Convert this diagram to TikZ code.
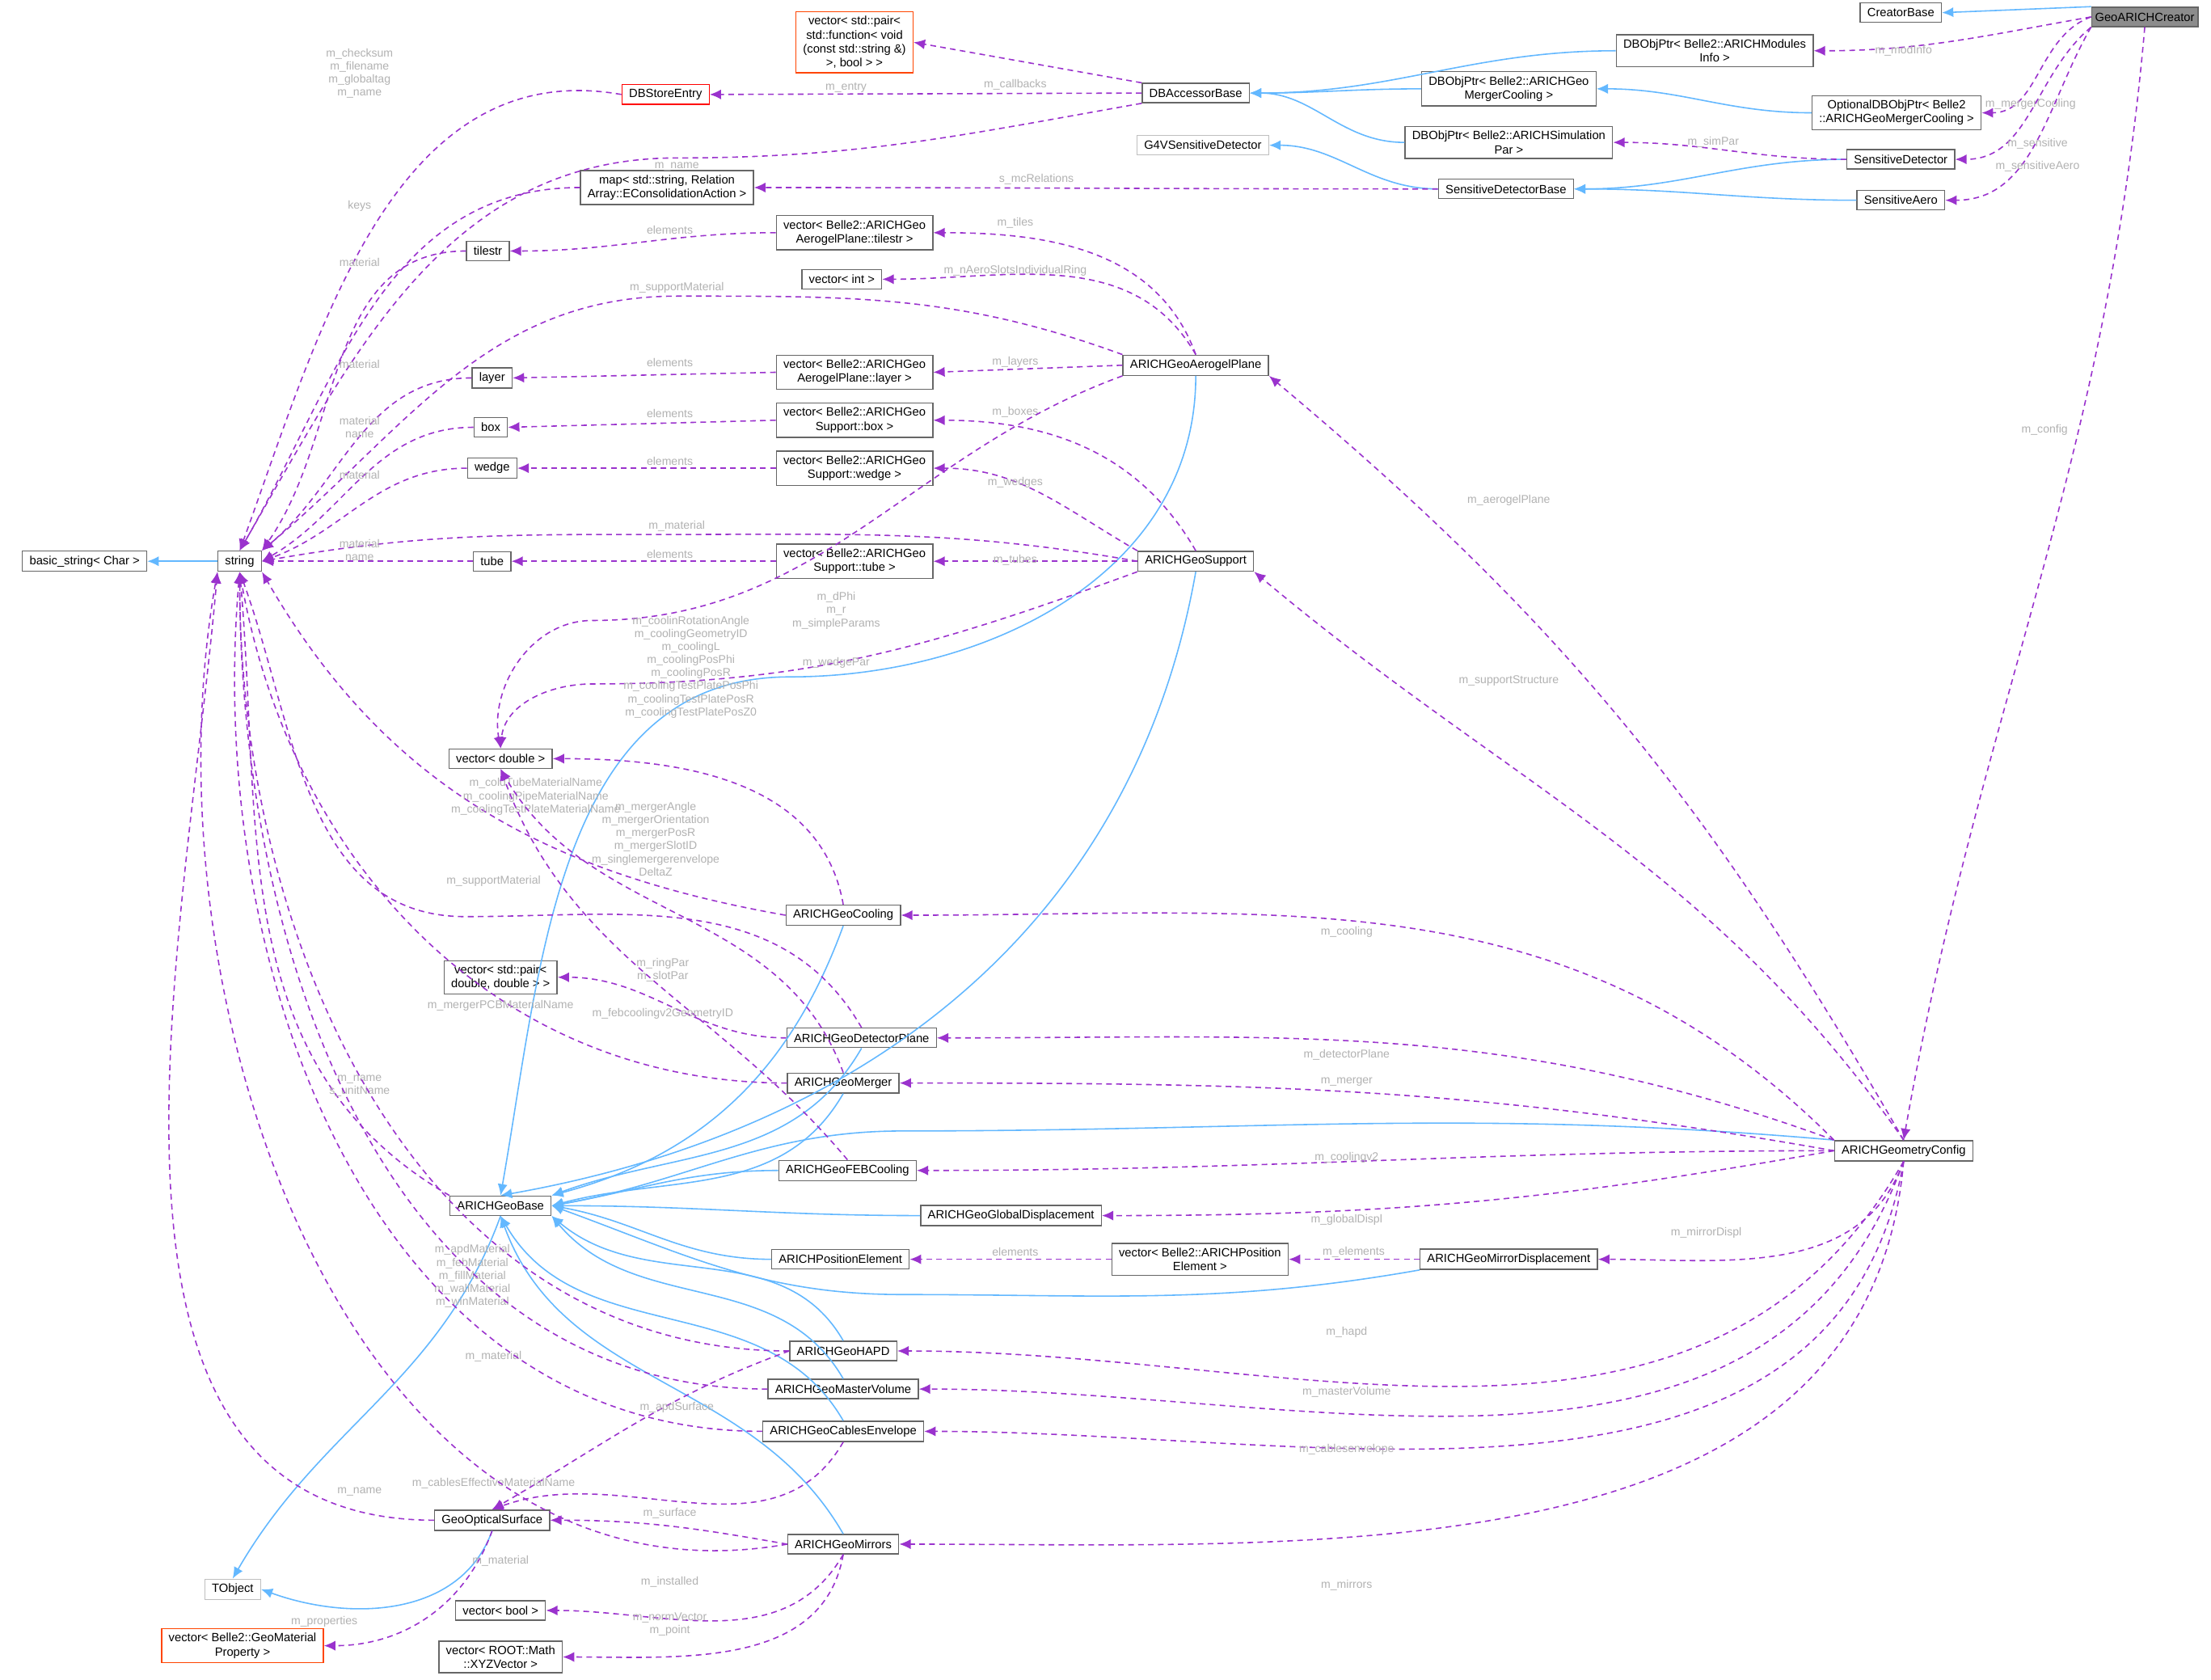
\documentclass[tikz,border=0pt]{standalone}
\usepackage{fontspec}
\setmainfont{Liberation Sans}
\usetikzlibrary{positioning}
\usetikzlibrary{arrows.meta}
\definecolor{inhcol}{RGB}{99,184,255}
\definecolor{usecol}{RGB}{154,50,205}
\definecolor{extcol}{RGB}{255,69,0}
\tikzset{>=latex}

\begin{document}
\begin{tikzpicture}[x=0.01744cm, y=-0.01744cm,
    cls/.style={draw=black!60, fill=white, line width=0.4pt, inner xsep=2.5pt, inner ysep=1.6pt,
      font=\fontsize{4.2}{4.9}\selectfont, align=center, minimum height=0.24cm},
    grey/.style={cls, draw=black!25},
    ext/.style={cls, draw=extcol},
    red/.style={cls, draw=red},
    cur/.style={cls, fill=black!45, inner xsep=1.2pt},
    inh/.style={-{Latex[length=4pt,width=3.5pt]}, draw=inhcol, line width=0.45pt},
    use/.style={-{Latex[length=4pt,width=3.5pt]}, draw=usecol, dashed, line width=0.45pt, dash pattern=on 2pt off 1.5pt},
    lbl/.style={text=black!30, font=\fontsize{4}{4.6}\selectfont, align=center, inner sep=0.5pt}]
    \useasboundingbox[fill=white] (0,0) rectangle (1568,1191);

    % 1. Classes
    \node[cls] (creatorbase) at (1348,9) {CreatorBase};
    \node[cur] (creator) at (1521,12) {GeoARICHCreator};
    \node[cls] (modinfo) at (1216,36) {DBObjPtr< Belle2::ARICHModules\\Info >};
    \node[cls] (optmerger) at (1345,80) {OptionalDBObjPtr< Belle2\\::ARICHGeoMergerCooling >};
    \node[cls] (mergerptr) at (1070,63) {DBObjPtr< Belle2::ARICHGeo\\MergerCooling >};
    \node[cls] (simpar) at (1070,101) {DBObjPtr< Belle2::ARICHSimulation\\Par >};
    \node[cls] (accessor) at (848,66) {DBAccessorBase};
    \node[ext] (callbacks) at (606,30) {vector< std::pair<\\std::function< void\\(const std::string \&)\\>, bool > >};
    \node[red] (storeentry) at (472,67) {DBStoreEntry};
    \node[grey] (g4sens) at (853,103) {G4VSensitiveDetector};
    \node[cls] (sensdet) at (1348,113) {SensitiveDetector};
    \node[cls] (sensbase) at (1068,134) {SensitiveDetectorBase};
    \node[cls] (sensaero) at (1348,142) {SensitiveAero};
    \node[cls] (relmap) at (473,133) {map< std::string, Relation\\Array::EConsolidationAction >};
    \node[cls] (tilestr) at (346,178) {tilestr};
    \node[cls] (vtiles) at (606,165) {vector< Belle2::ARICHGeo\\AerogelPlane::tilestr >};
    \node[cls] (vint) at (597,198) {vector< int >};
    \node[cls] (aerogel) at (848,259) {ARICHGeoAerogelPlane};
    \node[cls] (layer) at (349,268) {layer};
    \node[cls] (vlayer) at (606,264) {vector< Belle2::ARICHGeo\\AerogelPlane::layer >};
    \node[cls] (box) at (348,303) {box};
    \node[cls] (vbox) at (606,298) {vector< Belle2::ARICHGeo\\Support::box >};
    \node[cls] (wedge) at (349,332) {wedge};
    \node[cls] (vwedge) at (606,332) {vector< Belle2::ARICHGeo\\Support::wedge >};
    \node[cls] (basicstr) at (60,398) {basic\_string< Char >};
    \node[cls] (string) at (170,398) {string};
    \node[cls] (tube) at (349,398) {tube};
    \node[cls] (vtube) at (606,398) {vector< Belle2::ARICHGeo\\Support::tube >};
    \node[cls] (support) at (848,398) {ARICHGeoSupport};
    \node[cls] (vdouble) at (355,538) {vector< double >};
    \node[cls] (cooling) at (598,649) {ARICHGeoCooling};
    \node[cls] (vpair) at (355,693) {vector< std::pair<\\double, double > >};
    \node[cls] (detplane) at (611,736) {ARICHGeoDetectorPlane};
    \node[cls] (merger) at (598,768) {ARICHGeoMerger};
    \node[cls] (febcool) at (601,830) {ARICHGeoFEBCooling};
    \node[cls] (geobase) at (355,855) {ARICHGeoBase};
    \node[cls] (globdisp) at (717,862) {ARICHGeoGlobalDisplacement};
    \node[cls] (config) at (1350,816) {ARICHGeometryConfig};
    \node[cls] (poselem) at (596,893) {ARICHPositionElement};
    \node[cls] (vposelem) at (851,893) {vector< Belle2::ARICHPosition\\Element >};
    \node[cls] (mirdisp) at (1070,893) {ARICHGeoMirrorDisplacement};
    \node[cls] (hapd) at (598,958) {ARICHGeoHAPD};
    \node[cls] (master) at (598,985) {ARICHGeoMasterVolume};
    \node[cls] (cables) at (598,1015) {ARICHGeoCablesEnvelope};
    \node[cls] (optsurf) at (349,1078) {GeoOpticalSurface};
    \node[cls] (mirrors) at (598,1095) {ARICHGeoMirrors};
    \node[grey] (tobject) at (165,1127) {TObject};
    \node[cls] (vbool) at (355,1142) {vector< bool >};
    \node[ext] (vprop) at (172,1167) {vector< Belle2::GeoMaterial\\Property >};
    \node[cls] (vxyz) at (355,1175) {vector< ROOT::Math\\::XYZVector >};

    % 2. Inheritance
    \draw[inh] (creator.north west) -- (creatorbase.east);
    \draw[inh] (modinfo.west) to[out=180,in=0] (accessor.east);
    \draw[inh] (mergerptr.west) to[out=180,in=0] (accessor.east);
    \draw[inh] (simpar.west) to[out=180,in=0] (accessor.east);
    \draw[inh] (optmerger.west) to[out=180,in=0] (mergerptr.east);
    \draw[inh] (sensdet.west) to[out=180,in=0] (sensbase.east);
    \draw[inh] (sensaero.west) to[out=180,in=0] (sensbase.east);
    \draw[inh] (sensbase.west) to[out=180,in=0] (g4sens.east);
    \draw[inh] (string.west) -- (basicstr.east);
    \draw[inh] (aerogel.south) to[out=-90,in=0] (560,480) to[out=180,in=80] (geobase.north);
    \draw[inh] (support.south) to[out=-100,in=10] (geobase.north);
    \draw[inh] (cooling.south) to[out=-110,in=15] (geobase.north east);
    \draw[inh] (detplane.south) to[out=-120,in=20] (geobase.north east);
    \draw[inh] (merger.south) to[out=-120,in=15] (geobase.east);
    \draw[inh] (febcool.west) to[out=180,in=10] (geobase.east);
    \draw[inh] (globdisp.west) to[out=180,in=0] (geobase.east);
    \draw[inh] (config.north west) to[out=175,in=0] (640,802) to[out=180,in=10] (geobase.east);
    \draw[inh] (poselem.west) to[out=180,in=-10] (geobase.east);
    \draw[inh] (mirdisp.south west) to[out=190,in=0] (640,918) to[out=180,in=-20] (geobase.east);
    \draw[inh] (hapd.north) to[out=120,in=-40] (geobase.south east);
    \draw[inh] (master.north) to[out=120,in=-50] (geobase.south east);
    \draw[inh] (cables.north) to[out=120,in=-60] (geobase.south);
    \draw[inh] (mirrors.north) to[out=120,in=-70] (geobase.south);
    \draw[inh] (geobase.south) to[out=-110,in=60] (tobject.north);
    \draw[inh] (optsurf.south) to[out=-110,in=-20] (tobject.east);

    % 3. Members of GeoARICHCreator
    \draw[use] (creator.west) to[out=190,in=0] (modinfo.east);
    \node[lbl] at (1350,36) {m\_modInfo};
    \draw[use] (creator.west) to[out=200,in=0] (optmerger.east);
    \node[lbl] at (1440,74) {m\_mergerCooling};
    \draw[use] (creator.south west) to[out=220,in=0] (sensdet.east);
    \node[lbl] at (1445,102) {m\_sensitive};
    \draw[use] (creator.south west) to[out=240,in=0] (sensaero.east);
    \node[lbl] at (1445,118) {m\_sensitiveAero};
    \draw[use] (creator.south) to[out=-95,in=80] (config.north);
    \node[lbl] at (1450,305) {m\_config};

    % 4. Database and sensitive detectors
    \draw[use] (sensdet.west) to[out=180,in=0] (simpar.east);
    \node[lbl] at (1215,101) {m\_simPar};
    \draw[use] (sensbase.west) to[out=180,in=0] (relmap.east);
    \node[lbl] at (735,127) {s\_mcRelations};
    \draw[use] (accessor.north west) to[out=170,in=-10] (callbacks.east);
    \node[lbl] at (720,60) {m\_callbacks};
    \draw[use] (accessor.west) -- (storeentry.east);
    \node[lbl] at (600,62) {m\_entry};
    \draw[use] (accessor.south west) to[out=190,in=0] (480,112) to[out=180,in=60] (string.north);
    \node[lbl] at (480,118) {m\_name};
    \draw[use] (storeentry.west) to[out=170,in=70] (string.north);
    \node[lbl] at (255,52) {m\_checksum\\m\_filename\\m\_globaltag\\m\_name};
    \draw[use] (relmap.west) to[out=180,in=60] (string.north);
    \node[lbl] at (255,146) {keys};

    % 5. Aerogel plane and support
    \draw[use] (tilestr.west) to[out=180,in=55] (string.north east);
    \node[lbl] at (255,186) {material};
    \draw[use] (vtiles.west) to[out=180,in=0] (tilestr.east);
    \node[lbl] at (475,163) {elements};
    \draw[use] (aerogel.north) to[out=110,in=0] (vtiles.east);
    \node[lbl] at (720,158) {m\_tiles};
    \draw[use] (aerogel.north) to[out=120,in=0] (vint.east);
    \node[lbl] at (720,192) {m\_nAeroSlotsIndividualRing};
    \draw[use] (aerogel.north west) to[out=160,in=0] (480,210) to[out=180,in=40] (string.north east);
    \node[lbl] at (480,204) {m\_supportMaterial};
    \draw[use] (aerogel.west) -- (vlayer.east);
    \node[lbl] at (720,257) {m\_layers};
    \draw[use] (vlayer.west) -- (layer.east);
    \node[lbl] at (475,257) {elements};
    \draw[use] (layer.west) to[out=180,in=40] (string.north east);
    \node[lbl] at (255,258) {material};
    \draw[use] (box.west) to[out=180,in=30] (string.east);
    \node[lbl] at (255,303) {material\\name};
    \draw[use] (vbox.west) -- (box.east);
    \node[lbl] at (475,293) {elements};
    \draw[use] (support.north) to[out=120,in=0] (vbox.east);
    \node[lbl] at (720,292) {m\_boxes};
    \draw[use] (wedge.west) to[out=180,in=20] (string.east);
    \node[lbl] at (255,337) {material};
    \draw[use] (vwedge.west) -- (wedge.east);
    \node[lbl] at (475,327) {elements};
    \draw[use] (support.north west) to[out=150,in=0] (vwedge.east);
    \node[lbl] at (720,342) {m\_wedges};
    \draw[use] (support.west) to[out=170,in=0] (480,379) to[out=180,in=10] (string.east);
    \node[lbl] at (480,373) {m\_material};
    \draw[use] (tube.west) -- (string.east);
    \node[lbl] at (255,390) {material\\name};
    \draw[use] (vtube.west) -- (tube.east);
    \node[lbl] at (475,393) {elements};
    \draw[use] (support.west) -- (vtube.east);
    \node[lbl] at (720,397) {m\_tubes};
    \draw[use] (aerogel.south west) to[out=200,in=0] (420,440) to[out=180,in=100] (vdouble.north);
    \node[lbl] at (593,433) {m\_dPhi\\m\_r\\m\_simpleParams};
    \draw[use] (support.south west) to[out=200,in=0] (420,485) to[out=180,in=85] (vdouble.north);
    \node[lbl] at (593,470) {m\_wedgePar};

    % 6. Detector parts
    \draw[use] (cooling.north) to[out=100,in=0] (vdouble.east);
    \node[lbl] at (490,473) {m\_coolinRotationAngle\\m\_coolingGeometryID\\m\_coolingL\\m\_coolingPosPhi\\m\_coolingPosR\\m\_coolingTestPlatePosPhi\\m\_coolingTestPlatePosR\\m\_coolingTestPlatePosZ0};
    \draw[use] (cooling.west) to[out=170,in=-60] (string.south east);
    \node[lbl] at (380,565) {m\_coldTubeMaterialName\\m\_coolingPipeMaterialName\\m\_coolingTestPlateMaterialName};
    \draw[use] (merger.north) to[out=110,in=-60] (vdouble.south);
    \node[lbl] at (465,595) {m\_mergerAngle\\m\_mergerOrientation\\m\_mergerPosR\\m\_mergerSlotID\\m\_singlemergerenvelope\\DeltaZ};
    \draw[use] (detplane.north) to[out=120,in=0] (330,650) to[out=180,in=-70] (string.south);
    \node[lbl] at (350,625) {m\_supportMaterial};
    \draw[use] (detplane.west) to[out=180,in=0] (vpair.east);
    \node[lbl] at (470,688) {m\_ringPar\\m\_slotPar};
    \draw[use] (merger.west) to[out=180,in=-80] (string.south);
    \node[lbl] at (355,713) {m\_mergerPCBMaterialName};
    \draw[use] (febcool.north) to[out=130,in=-70] (vdouble.south);
    \node[lbl] at (470,719) {m\_febcoolingv2GeometryID};
    \draw[use] (geobase.north west) to[out=150,in=-85] (string.south);
    \node[lbl] at (255,770) {m\_name\\s\_unitName};
    \draw[use] (vposelem.west) -- (poselem.east);
    \node[lbl] at (720,888) {elements};
    \draw[use] (mirdisp.west) -- (vposelem.east);
    \node[lbl] at (960,888) {m\_elements};
    \draw[use] (hapd.west) to[out=180,in=-90] (string.south);
    \node[lbl] at (335,905) {m\_apdMaterial\\m\_febMaterial\\m\_fillMaterial\\m\_wallMaterial\\m\_winMaterial};
    \draw[use] (master.west) to[out=180,in=-90] (string.south);
    \node[lbl] at (350,962) {m\_material};
    \draw[use] (hapd.west) to[out=200,in=30] (optsurf.north);
    \node[lbl] at (480,998) {m\_apdSurface};
    \draw[use] (cables.west) to[out=180,in=-95] (string.south);
    \node[lbl] at (350,1052) {m\_cablesEffectiveMaterialName};
    \draw[use] (cables.south) to[out=-120,in=20] (optsurf.north);
    \draw[use] (optsurf.west) to[out=180,in=-95] (string.south west);
    \node[lbl] at (255,1058) {m\_name};
    \draw[use] (optsurf.south) to[out=-110,in=0] (vprop.east);
    \node[lbl] at (230,1150) {m\_properties};
    \draw[use] (mirrors.west) to[out=170,in=0] (optsurf.east);
    \node[lbl] at (475,1073) {m\_surface};
    \draw[use] (mirrors.west) to[out=190,in=-100] (string.south west);
    \node[lbl] at (355,1107) {m\_material};
    \draw[use] (mirrors.south) to[out=-120,in=0] (vbool.east);
    \node[lbl] at (475,1122) {m\_installed};
    \draw[use] (mirrors.south) to[out=-100,in=0] (vxyz.east);
    \node[lbl] at (475,1152) {m\_normVector\\m\_point};

    % 7. Members of ARICHGeometryConfig
    \draw[use] (config.north) to[out=120,in=-40] (aerogel.south east);
    \node[lbl] at (1070,355) {m\_aerogelPlane};
    \draw[use] (config.north) to[out=125,in=-40] (support.south east);
    \node[lbl] at (1070,483) {m\_supportStructure};
    \draw[use] (config.north west) to[out=135,in=0] (cooling.east);
    \node[lbl] at (955,661) {m\_cooling};
    \draw[use] (config.north west) to[out=160,in=0] (detplane.east);
    \node[lbl] at (955,748) {m\_detectorPlane};
    \draw[use] (config.west) to[out=170,in=0] (merger.east);
    \node[lbl] at (955,767) {m\_merger};
    \draw[use] (config.west) to[out=180,in=0] (febcool.east);
    \node[lbl] at (955,821) {m\_coolingv2};
    \draw[use] (config.west) to[out=190,in=0] (globdisp.east);
    \node[lbl] at (955,865) {m\_globalDispl};
    \draw[use] (config.south) to[out=-110,in=0] (mirdisp.east);
    \node[lbl] at (1210,874) {m\_mirrorDispl};
    \draw[use] (config.south) to[out=-120,in=0] (hapd.east);
    \node[lbl] at (955,945) {m\_hapd};
    \draw[use] (config.south) to[out=-110,in=0] (master.east);
    \node[lbl] at (955,987) {m\_masterVolume};
    \draw[use] (config.south) to[out=-100,in=0] (cables.east);
    \node[lbl] at (955,1028) {m\_cablesenvelope};
    \draw[use] (config.south) to[out=-95,in=0] (mirrors.east);
    \node[lbl] at (955,1124) {m\_mirrors};
\end{tikzpicture}
\end{document}
